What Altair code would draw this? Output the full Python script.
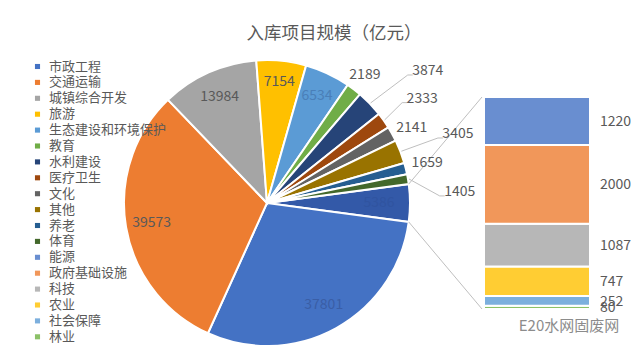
import math
import altair as alt
import pandas as pd

# ---------------- data ----------------
pie_cats = ["市政工程", "交通运输", "城镇综合开发", "旅游", "生态建设和环境保护", "教育",
            "水利建设", "医疗卫生", "文化", "其他", "养老", "体育"]
pie_vals = [37801, 39573, 13984, 7154, 6534, 2189, 3874, 2333, 2141, 3405, 1659, 1405]
bar_cats = ["能源", "政府基础设施", "科技", "农业", "社会保障", "林业"]
bar_vals = [1220, 2000, 1087, 747, 252, 80]
other_name = "其他项"
title_text = "入库项目规模（亿元）"
watermark = "E20水网固废网"

# ---------------- styles ----------------
pie_colors = ["#4472C4", "#ED7D31", "#A5A5A5", "#FFC000", "#5B9BD5", "#70AD47",
              "#264478", "#9E480E", "#636363", "#997300", "#255E91", "#43682B"]
bar_colors = ["#698ED0", "#F1975A", "#B7B7B7", "#FFCD33", "#7CAFDD", "#8CC168"]
other_color = "#3359A8"
TXT = "#595959"
FONT = "Noto Sans CJK SC"

W, H = 640, 353
CX, CY, R = 267, 203, 143
BAR_X0, BAR_X1, BAR_TOP, BAR_BOTTOM = 484, 590, 97, 309

# label placement per slice: (radius, angle nudge in degrees, leader line, text colour)
label_style = {
    "市政工程": (117, 0, False, "#3A5EA6"), "交通运输": (117, 0, False, TXT),
    "城镇综合开发": (116, 0, False, TXT), "旅游": (122, 0, False, TXT),
    "生态建设和环境保护": (118, 0, False, "#4A7FB8"), "教育": (161, 0, False, TXT),
    "水利建设": (208, 4.6, True, TXT), "医疗卫生": (187, 1.3, True, TXT),
    "文化": (163, 1.5, False, TXT), "其他": (203, 1.2, True, TXT),
    "养老": (165, 0, False, TXT), "体育": (193, 6.3, True, TXT),
    other_name: (112, 0, False, "#3054A0"),
}

# ---------------- derived tables ----------------
other_val = sum(bar_vals)
slice_cats = [other_name] + pie_cats
slice_vals = [other_val] + pie_vals
total = sum(slice_vals)
start_deg = 90 - other_val / total * 180
start_rad = math.radians(start_deg)

pie_df = pd.DataFrame({"cat": slice_cats, "value": slice_vals, "ord": range(len(slice_cats))})


def pt(angle_deg, r):
    a = math.radians(angle_deg)
    return CX + r * math.sin(a), CY - r * math.cos(a)


lab_rows, lead_rows = [], []
cum = 0
for c, v in zip(slice_cats, slice_vals):
    mid = start_deg + (cum + v / 2) / total * 360
    cum += v
    r, nudge, leader, col = label_style[c]
    lx, ly = pt(mid + nudge, r)
    lab_rows.append({"x": lx, "y": ly, "t": str(v), "col": col})
    if leader:
        sx, sy = pt(mid, R + 1)
        lead_rows += [{"g": c, "o": 0, "x": sx, "y": sy},
                      {"g": c, "o": 1, "x": lx - 20, "y": ly + 4},
                      {"g": c, "o": 2, "x": lx - 15, "y": ly + 4}]
lab_df = pd.DataFrame(lab_rows)

# connectors between the "other" slice and the bar
ux, uy = pt(start_deg, R)
dx_, dy_ = pt(start_deg + other_val / total * 360, R)
lead_rows += [{"g": "up", "o": 0, "x": ux, "y": uy}, {"g": "up", "o": 1, "x": BAR_X0 - 2, "y": BAR_TOP},
              {"g": "dn", "o": 0, "x": dx_, "y": dy_}, {"g": "dn", "o": 1, "x": BAR_X0 - 2, "y": BAR_BOTTOM}]
lead_df = pd.DataFrame(lead_rows)

# bar stack (bottom = last item)
rows = []
acc = 0
for c, v in reversed(list(zip(bar_cats, bar_vals))):
    rows.append({"cat": c, "value": v, "y0": acc, "y1": acc + v, "mid": acc + v / 2})
    acc += v
bar_df = pd.DataFrame(rows)

all_cats = pie_cats + bar_cats
color_scale = alt.Scale(domain=all_cats + [other_name], range=pie_colors + bar_colors + [other_color])

px_x = alt.Scale(domain=[0, W], range=[0, W], nice=False, zero=False)
px_y = alt.Scale(domain=[0, H], range=[0, H], nice=False, zero=False)
bar_y = alt.Scale(domain=[0, other_val], range=[BAR_BOTTOM, BAR_TOP], nice=False, zero=False)

pie = alt.Chart(pie_df).mark_arc(outerRadius=R, stroke="white", strokeWidth=2).encode(
    theta=alt.Theta("value:Q", stack=True,
                    scale=alt.Scale(range=[start_rad, start_rad + 2 * math.pi])),
    order=alt.Order("ord:Q"),
    color=alt.Color("cat:N", scale=color_scale,
                    legend=alt.Legend(values=all_cats, title=None, orient="none",
                                      legendX=31, legendY=60, padding=0,
                                      symbolType="square", symbolSize=26, symbolStrokeWidth=0,
                                      labelFontSize=13, labelColor=TXT, labelFont=FONT,
                                      labelOffset=5, rowPadding=1.9, labelLimit=200)),
    x=alt.value(CX), y=alt.value(CY),
)

labels = alt.Chart(lab_df).mark_text(fontSize=14, font=FONT, baseline="middle", align="center").encode(
    x=alt.X("x:Q", scale=px_x, axis=None),
    y=alt.Y("y:Q", scale=px_y, axis=None),
    text="t:N",
    color=alt.Color("col:N", scale=None),
)

leaders = alt.Chart(lead_df).mark_line(color="#BFBFBF", strokeWidth=1).encode(
    x=alt.X("x:Q", scale=px_x, axis=None),
    y=alt.Y("y:Q", scale=px_y, axis=None),
    detail="g:N",
    order="o:Q",
)

bars = alt.Chart(bar_df).mark_bar(stroke="white", strokeWidth=2).encode(
    x=alt.value(BAR_X0), x2=alt.value(BAR_X1),
    y=alt.Y("y0:Q", scale=bar_y, axis=None),
    y2="y1:Q",
    color=alt.Color("cat:N", scale=color_scale, legend=None),
)

bar_labels = alt.Chart(bar_df).mark_text(fontSize=14, font=FONT, align="left", baseline="middle",
                                         color=TXT, dy=1).encode(
    x=alt.value(600),
    y=alt.Y("mid:Q", scale=bar_y, axis=None),
    text="value:Q",
)

texts_df = pd.DataFrame({"x": [334, 569], "y": [34, 326], "t": [title_text, watermark],
                         "s": [17.5, 15], "c": [TXT, "#8C8C8C"]})
texts = alt.Chart(texts_df).mark_text(font=FONT, align="center", baseline="middle").encode(
    x=alt.X("x:Q", scale=px_x, axis=None),
    y=alt.Y("y:Q", scale=px_y, axis=None),
    text="t:N",
    size=alt.Size("s:Q", scale=None),
    color=alt.Color("c:N", scale=None),
)

chart = alt.layer(pie, leaders, labels, bars, bar_labels, texts).resolve_scale(
    x="independent", y="independent"
).properties(
    width=W, height=H, padding=0, autosize=alt.AutoSizeParams(type="none"),
    background="white",
).configure_view(stroke=None)

chart.save("out.html", embed_options={"renderer": "svg", "actions": False})
